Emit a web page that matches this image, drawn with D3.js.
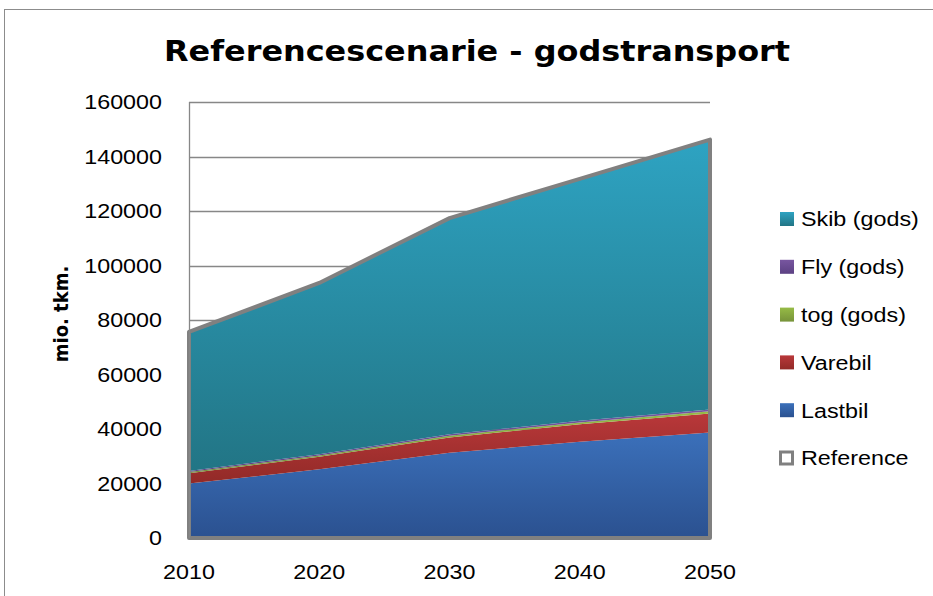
<!DOCTYPE html>
<html>
<head>
<meta charset="utf-8">
<script src="https://cdn.jsdelivr.net/npm/d3@7"></script>
<style>
  body { margin: 0; background: #fff; }
  svg { display: block; }
</style>
</head>
<body>
<svg id="chart" width="933" height="596"></svg>
<script>
const years = ["2010", "2020", "2030", "2040", "2050"];
const lastbil = [20000, 25200, 31300, 35300, 38700];
const varebil = [3800, 4600, 5600, 6400, 7000];
const tog = [400, 500, 600, 700, 800];
const fly = [400, 450, 550, 600, 700];
const skib = [51000, 62900, 79300, 88800, 99000];
const reference = [75600, 93600, 117400, 131800, 146200];
const yTicks = [0, 20000, 40000, 60000, 80000, 100000, 120000, 140000, 160000];

const seriesKeys = ["Lastbil", "Varebil", "tog (gods)", "Fly (gods)", "Skib (gods)"];
const seriesValues = [lastbil, varebil, tog, fly, skib];
// top / bottom gradient colours for each layer
const colors = {
  "Lastbil": ["#3b70ba", "#2b5190"],
  "Varebil": ["#b9383a", "#922a27"],
  "tog (gods)": ["#96bb46", "#77933a"],
  "Fly (gods)": ["#7856a0", "#5c4183"],
  "Skib (gods)": ["#2ea3c2", "#227585"]
};

const svg = d3.select("#chart");
const margin = { top: 102, right: 223, bottom: 58, left: 189 };
const width = 933, height = 596;
const stretch = 1.11; // text in the original is a little wider than tall
const bodyFont = "Liberation Sans, Arial, sans-serif";

// outer chart border
svg.append("rect")
  .attr("x", 4.5).attr("y", 9.5)
  .attr("width", 940).attr("height", 600)
  .attr("fill", "none").attr("stroke", "#8c8c8c").attr("stroke-width", 1);

const x = d3.scalePoint()
  .domain(years)
  .range([margin.left, width - margin.right]);

const y = d3.scaleLinear()
  .domain([0, 160000])
  .range([height - margin.bottom, margin.top]);

const table = years.map((yr, i) => {
  const row = { year: yr };
  seriesKeys.forEach((k, j) => row[k] = seriesValues[j][i]);
  return row;
});

const stack = d3.stack().keys(seriesKeys);
const layers = stack(table);

// gradients
const defs = svg.append("defs");
seriesKeys.forEach((k, i) => {
  const g = defs.append("linearGradient")
    .attr("id", "grad" + i)
    .attr("x1", 0).attr("y1", 0).attr("x2", 0).attr("y2", 1);
  g.append("stop").attr("offset", "0%").attr("stop-color", colors[k][0]);
  g.append("stop").attr("offset", "100%").attr("stop-color", colors[k][1]);
});

// gridlines
svg.append("g")
  .selectAll("line")
  .data(yTicks)
  .enter()
  .append("line")
  .attr("x1", margin.left)
  .attr("x2", width - margin.right)
  .attr("y1", (d) => Math.round(y(d)) + 0.5)
  .attr("y2", (d) => Math.round(y(d)) + 0.5)
  .attr("stroke", "#878787")
  .attr("stroke-width", 1.3);

const area = d3.area()
  .x((d) => x(d.data.year))
  .y0((d) => y(d[0]))
  .y1((d) => y(d[1]));

svg.append("g")
  .selectAll("path")
  .data(layers)
  .enter()
  .append("path")
  .attr("d", area)
  .attr("fill", (d, i) => `url(#grad${i})`);

// reference outline (area with no fill)
const refArea = d3.area()
  .x((d, i) => x(years[i]))
  .y0(y(0))
  .y1((d) => y(d));

svg.append("path")
  .datum(reference)
  .attr("d", refArea)
  .attr("fill", "none")
  .attr("stroke", "#808080")
  .attr("stroke-width", 4)
  .attr("stroke-linejoin", "round");

// left axis line
svg.append("line")
  .attr("x1", margin.left + 0.5).attr("x2", margin.left + 0.5)
  .attr("y1", y(160000)).attr("y2", y(0))
  .attr("stroke", "#878787").attr("stroke-width", 1.3);

// y tick labels
svg.append("g")
  .selectAll("text")
  .data(yTicks)
  .enter()
  .append("text")
  .attr("transform", (d) => `translate(${margin.left - 27}, ${y(d)}) scale(${stretch}, 1)`)
  .attr("dy", "0.35em")
  .attr("text-anchor", "end")
  .attr("font-family", bodyFont)
  .attr("font-size", "21px")
  .text((d) => d);

// x tick labels
svg.append("g")
  .selectAll("text")
  .data(years)
  .enter()
  .append("text")
  .attr("transform", (d) => `translate(${x(d)}, 579) scale(${stretch}, 1)`)
  .attr("text-anchor", "middle")
  .attr("font-family", bodyFont)
  .attr("font-size", "21px")
  .text((d) => d);

// title
svg.append("text")
  .attr("transform", `translate(477, 61) scale(1.1, 1)`)
  .attr("text-anchor", "middle")
  .attr("font-family", "DejaVu Sans, sans-serif")
  .attr("font-weight", "bold")
  .attr("font-size", "29px")
  .text("Referencescenarie - godstransport");

// y axis label
svg.append("text")
  .attr("transform", `translate(68, 314) rotate(-90) scale(1, 1.1)`)
  .attr("text-anchor", "middle")
  .attr("font-family", "DejaVu Sans, sans-serif")
  .attr("font-weight", "bold")
  .attr("font-size", "18px")
  .text("mio. tkm.");

// legend
const legendItems = ["Skib (gods)", "Fly (gods)", "tog (gods)", "Varebil", "Lastbil", "Reference"];
const legend = svg.append("g");
legendItems.forEach((name, i) => {
  const cy = 219 + i * 47.8;
  if (name === "Reference") {
    legend.append("rect")
      .attr("x", 780.5).attr("y", cy - 6)
      .attr("width", 12).attr("height", 12)
      .attr("fill", "#fff").attr("stroke", "#808080").attr("stroke-width", 3);
  } else {
    const idx = seriesKeys.indexOf(name);
    legend.append("rect")
      .attr("x", 780).attr("y", cy - 7)
      .attr("width", 14).attr("height", 14)
      .attr("fill", `url(#grad${idx})`);
  }
  legend.append("text")
    .attr("transform", `translate(801, ${cy}) scale(${stretch}, 1)`)
    .attr("dy", "0.35em")
    .attr("font-family", bodyFont)
    .attr("font-size", "21px")
    .text(name);
});
</script>
</body>
</html>
